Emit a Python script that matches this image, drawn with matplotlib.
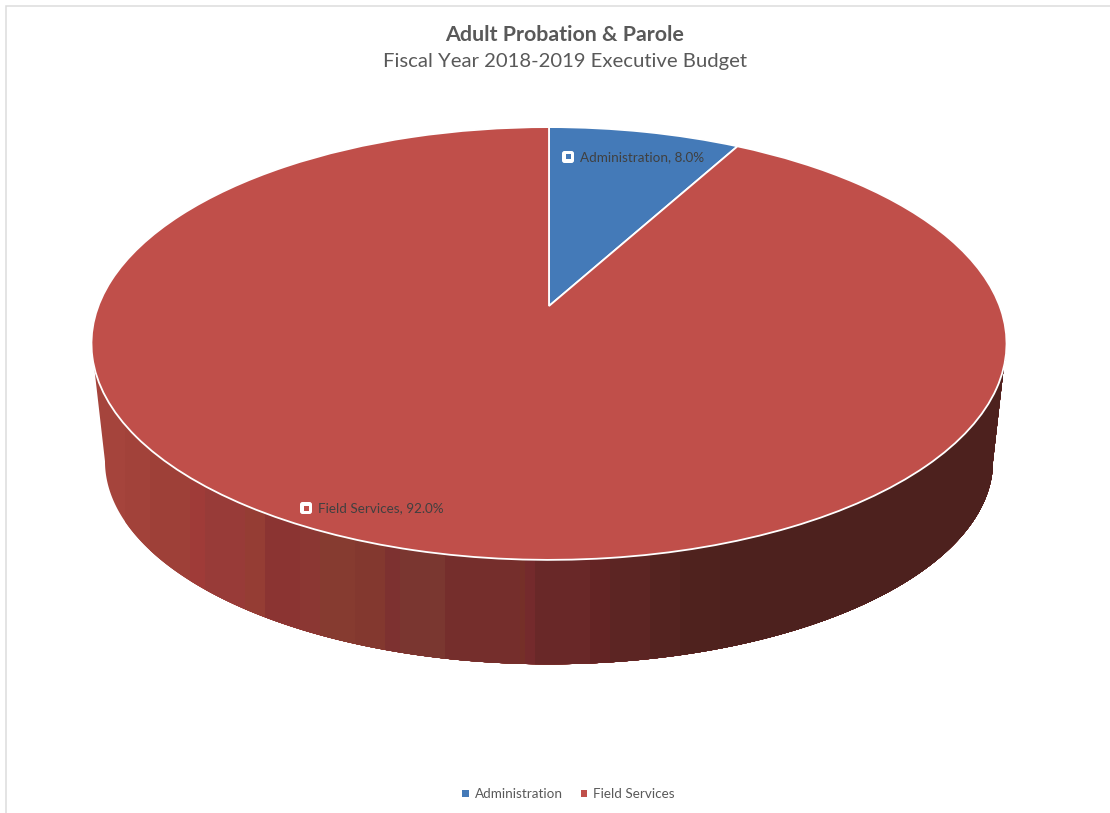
import matplotlib
matplotlib.use("Agg")
import matplotlib.pyplot as plt
import numpy as np
from matplotlib.patches import FancyBboxPatch, Patch, Polygon
from matplotlib.transforms import Transform

# ---- data -----------------------------------------------------------------
categories = ["Administration", "Field Services"]
shares = [8.0, 92.0]
title_main = "Adult Probation & Parole"
title_sub = "Fiscal Year 2018-2019 Executive Budget"

# ---- style ----------------------------------------------------------------
slice_colors = ["#447ab8", "#c04f4a"]
wall_edges = [85, 125, 150, 190, 205, 245, 265, 300, 320, 355, 385, 400, 430, 445,
              520, 525, 535, 590, 610, 650, 680, 720]
wall_colors = ["#a5443c", "#a2423a", "#9e4038", "#9f3b38", "#983b38", "#953d34",
               "#8b3432", "#8b3733", "#863b30", "#83382f", "#7d3130", "#7a3630", "#7a3730",
               "#752e2c", "#752f28", "#742a2c", "#692828", "#632424", "#5c2523", "#542320",
               "#4f221e", "#4d211e"]
FONT = "Lato"
plt.rcParams["font.family"] = [FONT, "DejaVu Sans"]


class PiePerspective(Transform):
    """Tilted-disc projection of the unit pie onto the pixel-sized axes."""
    input_dims = output_dims = 2

    def __init__(self, cx, ay, A, B, k):
        super().__init__()
        self.cx, self.ay, self.A, self.B, self.k = cx, ay, A, B, k

    def transform_non_affine(self, pts):
        pts = np.asarray(pts, dtype=float)
        d = 1 + self.k * pts[:, 1]
        return np.column_stack((self.cx + self.A * pts[:, 0] / d,
                                self.ay - self.B * pts[:, 1] / d))


top_face = PiePerspective(549, 306, 450.6, 209.9, 0.1732)
bottom_face = PiePerspective(549, 426, 437.3, 197.0, 0.1732)

fig = plt.figure(figsize=(11.10, 8.13), dpi=100, facecolor="white")
ax = fig.add_axes([0, 0, 1, 1])
wedges, _ = ax.pie(shares, colors=slice_colors, startangle=90, counterclock=False,
                   radius=1.0, wedgeprops={"edgecolor": "white", "linewidth": 1.3, "zorder": 3})
for w in wedges:
    w.set_transform(top_face + ax.transData)
ax.set_aspect("auto")
ax.set_xlim(0, 1110)
ax.set_ylim(813, 0)
ax.axis("off")

# side wall of the disc: an outline between both rims, filled by vertical shading bands
theta = np.radians(np.linspace(190.0, 350.0, 400))
ring = np.column_stack((np.cos(theta), np.sin(theta)))
wall_outline = Polygon(np.vstack((top_face.transform_non_affine(ring),
                                  bottom_face.transform_non_affine(ring)[::-1])),
                       closed=True, transform=ax.transData, fc="none", ec="none")
ax.add_patch(wall_outline)
for left, col in zip(wall_edges, wall_colors):
    band = ax.axvspan(left, 1010, facecolor=col, edgecolor="none", zorder=1)
    band.set_clip_path(wall_outline)

# chart frame
ax.plot([6, 6, 1110], [813, 6.5, 6.5], color="#dcdcdc", lw=1.1, zorder=0, solid_joinstyle="miter")

# titles
ax.text(565, 35, title_main, ha="center", va="center", fontsize=15.4, fontweight="bold",
        color="#595959")
ax.text(565, 62, title_sub, ha="center", va="center", fontsize=14.6, color="#595959")

# data labels
label_spots = [(568, 157), (306, 508)]
for name, val, col, (x, y) in zip(categories, shares, slice_colors, label_spots):
    ax.add_patch(FancyBboxPatch((x - 4, y - 4), 8, 8, boxstyle="round,pad=2,rounding_size=2.5",
                                fc="white", ec="none", zorder=4))
    ax.add_patch(FancyBboxPatch((x - 2.5, y - 2.5), 5, 5, boxstyle="square,pad=0",
                                fc=col, ec="none", zorder=5))
    ax.text(x + 11.5, y + 0.5, f"{name}, {val:.1f}%", ha="left", va="center", fontsize=9.7,
            color="#404040", zorder=6)

# legend
handles = [Patch(facecolor=c, edgecolor="none") for c in slice_colors]
ax.legend(handles, categories, ncol=2, frameon=False, loc="center",
          bbox_to_anchor=(568.5 / 1110, 1 - 794 / 813), fontsize=9.7, labelcolor="#595959",
          handlelength=0.45, handleheight=0.45, handletextpad=0.45, columnspacing=1.35,
          borderpad=0, borderaxespad=0)

fig.savefig("out.png", dpi=100)
